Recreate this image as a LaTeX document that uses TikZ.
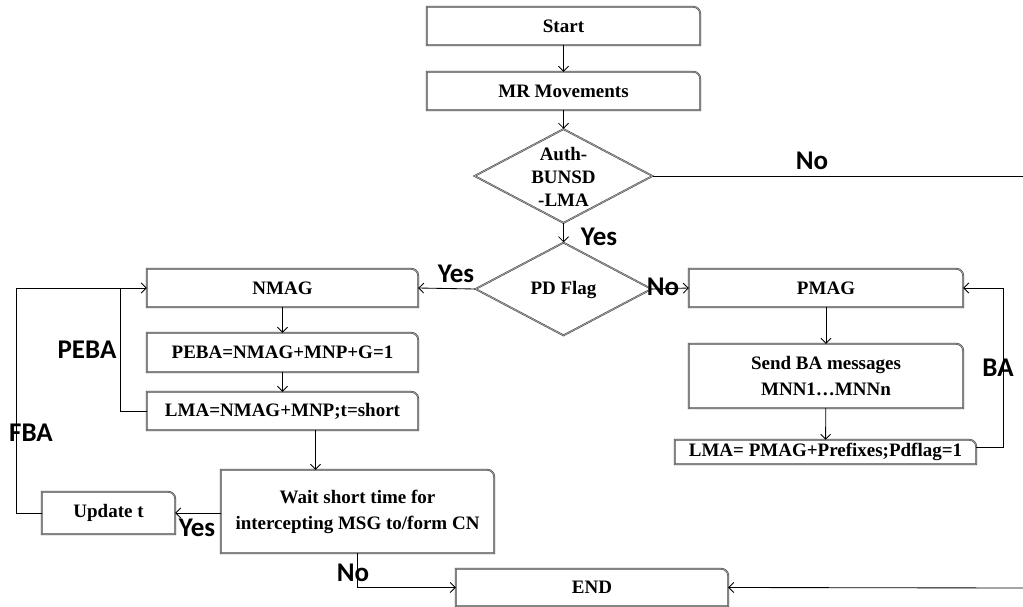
\documentclass[tikz,border=0pt]{standalone}
\usepackage{fontspec}
\setmainfont{Liberation Serif}
\newfontfamily\lblfont{Carlito}
\usetikzlibrary{shapes.geometric,arrows.meta,calc}

% outline of a process box: square corners except the rounded top-right one
\newcommand\cornerbox[1]{%
  \draw[boxline] (#1.south west) -- (#1.north west)
    -- ([xshift=-7pt]#1.north east) arc[start angle=90,end angle=0,radius=7pt]
    -- (#1.south east) -- cycle;}

\begin{document}
\begin{tikzpicture}[x=1pt,y=-1pt,
  boxline/.style={draw=black!75, double=black!35, double distance=0.8pt, line width=0.5pt},
  proc/.style={inner sep=0pt, font=\bfseries\fontsize{19}{23}\selectfont, align=center},
  dec/.style={diamond, boxline, inner sep=0pt, minimum width=178pt, minimum height=94pt},
  conn/.style={line width=0.85pt, -{Straight Barb[length=5pt,width=10pt]}},
  plain/.style={line width=0.85pt},
  lbl/.style={font=\lblfont\bfseries\fontsize{27}{29}\selectfont, inner sep=0pt}
]
\useasboundingbox (0,0) rectangle (1023,607);

% ---- main column
\node[proc, minimum width=273pt, minimum height=38pt] (start) at (563.5,26) {Start};
\node[proc, minimum width=273pt, minimum height=38pt] (mr) at (563.5,91) {MR Movements};
\node[dec] (auth) at (563.5,176) {};
\node[proc] (authtext) at (563.5,177) {Auth-\\BUNSD\\-LMA};
\node[dec, minimum width=176pt, minimum height=93pt] (pd) at (563.5,289) {};
\node[proc] (pdtext) at (563.5,290) {PD Flag};

% ---- left branch
\node[proc, minimum width=271pt, minimum height=38pt] (nmag) at (282.5,288) {NMAG};
\node[proc, minimum width=271pt, minimum height=39pt] (peba) at (282.5,352.5) {PEBA=NMAG+MNP+G=1};
\node[proc, minimum width=271pt, minimum height=38pt] (lma) at (282.5,411) {LMA=NMAG+MNP;t=short};
\node[proc, minimum width=273pt, minimum height=83pt] (wait) at (357.5,511.5)
  {Wait short time for\\[3pt]intercepting MSG to/form CN};
\node[proc, minimum width=133pt, minimum height=42pt] (upd) at (108.5,513) {Update t};
\node[proc, minimum width=272pt, minimum height=37pt] (endb) at (592,587.5) {END};

% ---- right branch
\node[proc, minimum width=274pt, minimum height=38pt] (pmag) at (826,288) {PMAG};
\node[proc, minimum width=274pt, minimum height=64pt] (send) at (826,376)
  {Send BA messages\\[3pt]MNN1…MNNn};
\node[proc, minimum width=301pt, minimum height=24pt] (lma2) at (825.5,452) {LMA= PMAG+Prefixes;Pdflag=1};

\foreach \b in {start,mr,nmag,peba,lma,wait,upd,endb,pmag,send,lma2} {\cornerbox{\b}}

% ---- free ends at the right margin
\coordinate (noexit) at (1023,176);
\coordinate (endin) at (1023,588);

% ---- connectors
\draw[conn] (start) -- (mr);
\draw[conn] (mr) -- (auth.north);
\draw[conn] (auth.south) -- (pd.north);
\draw[plain] (auth.east) -- (noexit);
\draw[conn] (pd.west) -- (nmag.east);
\draw[conn] (pd.east) -- (pmag.west);
\draw[conn] (nmag) -- (peba);
\draw[conn] (peba) -- (lma);
\draw[conn] ([xshift=33pt]lma.south) -- ([xshift=33pt]lma.south |- wait.north);
\draw[conn] (wait.west |- upd.east) -- (upd.east);
\draw[conn] (upd.west) -| (16,288) -- (nmag.west);
\draw[plain] (lma.west) -| (120,288);
\draw[conn] (wait.south) |- (endb.west);
\draw[conn] (endin) -- (endb.east);
\draw[conn] (pmag) -- (send);
\draw[conn] (send) -- (lma2);
\draw[conn] ([yshift=5pt]lma2.east) -| (1003,288) -- (pmag.east);

% ---- labels
\node[lbl] (lno1) at (812,161) {No};
\node[lbl] (lyes1) at (599,237) {Yes};
\node[lbl] (lyes2) at (456,274) {Yes};
\node[lbl] (lno2) at (663,287) {No};
\node[lbl] (lpeba) at (87,350) {PEBA};
\node[lbl] (lfba) at (31,433) {FBA};
\node[lbl] (lyes3) at (197,528) {Yes};
\node[lbl] (lno3) at (353,573) {No};
\node[lbl] (lba) at (998,368) {BA};
\end{tikzpicture}
\end{document}
